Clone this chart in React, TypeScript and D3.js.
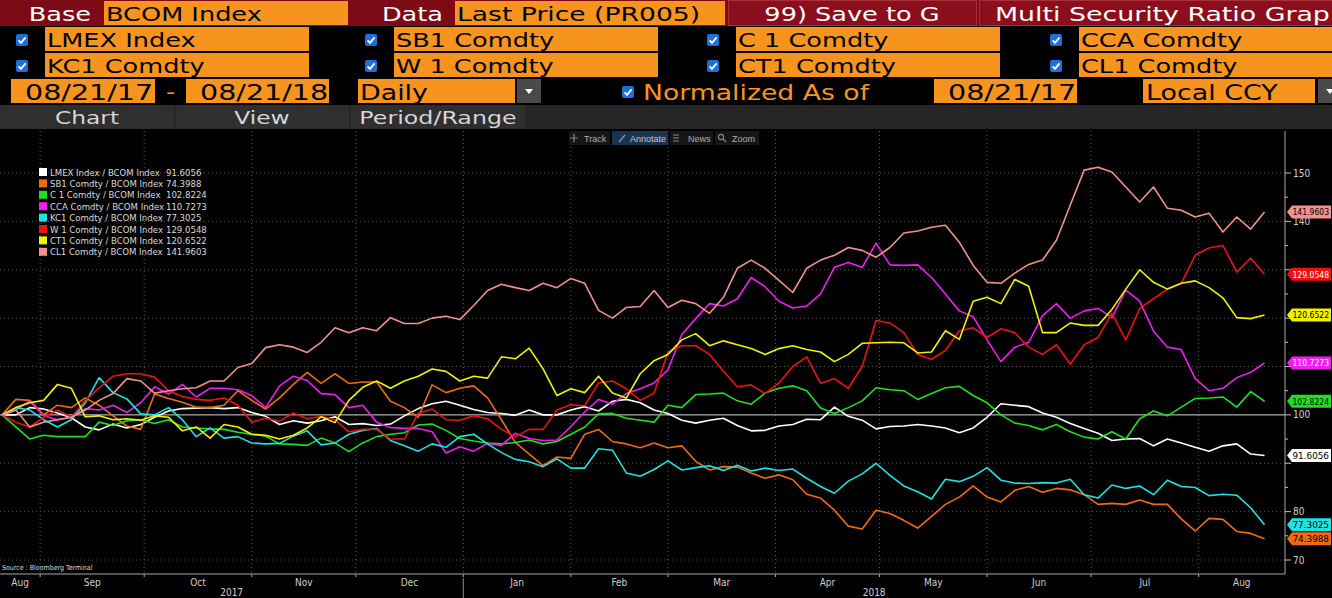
import React from 'react';
import * as d3 from 'd3';

// ---------------- DATA ----------------
const baseSecurity = 'BCOM Index';
const securities = ['LMEX Index', 'SB1 Comdty', 'C 1 Comdty', 'CCA Comdty', 'KC1 Comdty', 'W 1 Comdty', 'CT1 Comdty', 'CL1 Comdty'];
const seriesColors = ['#ffffff', '#f26a0f', '#1fe01f', '#f01cf0', '#1ee3e3', '#ee1111', '#f2f200', '#f4918c'];
const tagTextColors = ['#000', '#000', '#000', '#fff', '#000', '#fff', '#000', '#000'];

const startDate = new Date(2017, 7, 21);
const endDate = new Date(2018, 7, 21);
// one observation every 4 calendar days, 08/21/17 .. 08/20/18
const sampleDates = d3.timeDay.range(startDate, new Date(2018, 7, 22), 4);

const lmex = [
  100, 100, 101.5, 101.2, 100.4, 99.4, 97.5, 96.9, 98.1, 97.3,
  98, 99.5, 100.8, 101.3, 101.4, 101.5, 101.3, 101.5, 100.5, 99.7,
  98, 98.8, 98.3, 98.8, 99.6, 98, 98.2, 97.8, 98.1, 99.8,
  101.3, 102.3, 102.8, 102, 101.1, 100.5, 100.3, 99.9, 101, 100,
  100, 101, 101.7, 100.8, 102.8, 103.2, 102.5, 101, 100.3, 98.9,
  98.3, 98.9, 99.3, 97.8, 96.7, 96.8, 97.7, 98, 99.1, 99,
  101.6, 99.7, 98.9, 97.1, 97.6, 97.7, 98, 97.7, 97.3, 96.3,
  97.3, 99.5, 102.3, 102, 101.7, 100.4, 99.5, 98.2, 97.2, 96.2,
  94.7, 95, 95.1, 93.6, 95, 94.2, 93.3, 92.5, 93.6, 94,
  91.9, 91.6056,
];
const sb1 = [
  100, 103.2, 103, 100, 102, 101.5, 103.5, 102, 99.8, 97.7,
  97, 104.3, 103.4, 102.6, 101.6, 101.5, 102, 105, 103, 101.2,
  103.5, 106.3, 108.8, 106.5, 108.5, 106.5, 106.8, 106.8, 102.8, 101.5,
  99.5, 106.2, 104.6, 105.5, 106, 103.5, 99, 94.3, 91.9, 89.5,
  91.3, 91, 96, 97, 94.5, 94, 93.2, 94.2, 93.2, 93.6,
  90.4, 88.6, 89.3, 89.2, 88, 86.9, 87.6, 86.6, 83.6, 82.8,
  80.3, 77, 76.4, 80.3, 79.6, 78.2, 76.6, 79, 81.5, 83,
  85.3, 83, 82, 84.4, 85.2, 84, 84.8, 84.5, 83.5, 81.5,
  81.7, 81.5, 82.4, 81.5, 81.5, 78.5, 76, 78.6, 78.4, 75.9,
  75.5, 74.3988,
];
const c1 = [
  100, 97.5, 95, 95.8, 95.5, 95.5, 95.5, 98.5, 97.8, 98.8,
  99, 98.2, 99, 97.5, 97.3, 97.1, 97, 96.4, 96, 95.6,
  94, 93.9, 93.7, 95.2, 94.2, 92.4, 94.2, 95.5, 96, 96.3,
  97.9, 98.1, 96.8, 95.1, 94.6, 94.2, 94, 94.3, 94.8, 94,
  94.5, 96, 97.5, 100.2, 100.3, 99.3, 98.9, 98.5, 102, 101.5,
  104.2, 104.3, 104.5, 102.9, 102.2, 104.5, 105.5, 106, 105, 101.4,
  100.3, 101.5, 102.9, 105.6, 105.2, 105, 103.2, 104.4, 105.6, 105.9,
  104, 102.5, 100, 98.3, 97.8, 96.9, 98, 96.5, 95.4, 95,
  96.5, 95, 99.2, 100.8, 99.8, 101.6, 103.4, 103.5, 103.7, 101.6,
  104.8, 102.8224,
];
const cca = [
  100, 101, 102.9, 99.8, 99, 99.5, 101.3, 101, 102, 100.5,
  102.5, 105.8, 104.3, 106.3, 103.7, 105.5, 105.5, 105.2, 104, 101.5,
  106, 108, 107.1, 104.4, 104.2, 101.5, 102, 98.5, 97.4, 97.2,
  97.2, 96.5, 92.1, 93.4, 92.5, 94.1, 93.7, 96.2, 95.1, 94.7,
  94.8, 97.6, 100.6, 103.2, 102.2, 104.4, 105.4, 106.6, 109.3, 116.6,
  119.9, 123, 122.5, 124, 128.4, 126.5, 123.5, 122.1, 122.5, 125,
  130.5, 131.5, 130.5, 135.5, 131, 130.9, 131, 128.4, 125, 121.5,
  120.3, 115.5, 111, 114, 115, 120.5, 123, 120, 121.5, 122,
  120.1, 125.8, 123.5, 117.3, 114, 113.5, 107.5, 105, 105.5, 107.7,
  108.8, 110.7273,
];
const kc1 = [
  100, 101.5, 101, 99, 97.5, 99, 102.5, 107.7, 104.6, 103.3,
  100.2, 100, 101.5, 99, 95.5, 97.3, 95.2, 95.5, 94.2, 94,
  94.1, 95.6, 96.7, 93.8, 94.2, 96, 96.8, 97.2, 94.7, 93.6,
  92.5, 94, 93.3, 95.5, 96, 94, 92.2, 90.8, 90.3, 89.3,
  90.9, 89, 89, 93, 92.7, 88, 87.3, 88.7, 90.5, 88.6,
  89.1, 89.5, 88.5, 89.6, 88.4, 89, 88.5, 88.8, 86.9, 85.2,
  83.8, 86.3, 87.8, 90, 87.5, 85.3, 84.1, 82.6, 86.7, 86.2,
  87.3, 89.1, 86.5, 85.9, 85.8, 86, 85.9, 86.7, 83.5, 82.8,
  85.5, 84.8, 85.3, 83.5, 86.5, 85.2, 85, 83.3, 83.6, 83.4,
  80.8, 77.3025,
];
const w1 = [
  100, 98.5, 97.5, 99.5, 101, 99.5, 103, 105.6, 108, 108.5,
  108.5, 107.8, 105, 103.8, 103.2, 103, 103.5, 102, 98.5, 99.3,
  98.7, 100.4, 99.2, 99.7, 99, 96.5, 97, 97, 95, 95,
  100.3, 101.2, 99, 98.9, 99.8, 99.2, 97, 95.5, 97, 97,
  101, 102.1, 101.9, 106.6, 107, 105.4, 103, 104.5, 113, 114.3,
  114.3, 112.5, 109, 105.8, 106.2, 104.4, 106.6, 110, 112, 106.5,
  107.5, 105.5, 110, 119.5, 119, 117, 112.5, 111.5, 113.3, 117.4,
  118, 116, 117.8, 117, 114, 112.5, 114.5, 110.5, 114.5, 116,
  121, 115.5, 122, 124, 126, 127.2, 133, 134.5, 135, 129.5,
  132.4, 129.0548,
];
const ct1 = [
  100, 101.5, 102.5, 103, 106.3, 105.5, 99.6, 99.8, 99, 99.2,
  98.9, 99.8, 99.5, 96.7, 97.5, 95.2, 98, 97.5, 96, 95.8,
  95, 95.8, 97.3, 99.6, 98.4, 103, 105.7, 107, 105.5, 107,
  108, 109.5, 109, 107, 108, 107.6, 112, 111.6, 113.8, 109.5,
  104, 105.4, 104.6, 108, 104.5, 103.5, 108.5, 111.2, 112.5, 115.5,
  116.8, 114.3, 115.3, 114.5, 113.7, 112.5, 113.7, 114.3, 113.5, 113,
  111, 112.5, 114.8, 114.9, 115, 114.9, 112.8, 113, 117.4, 115.6,
  123.5, 124.3, 123, 128, 126.6, 117, 117, 119, 118.5, 118.5,
  121.8, 126, 130, 127.4, 126, 127.2, 127.7, 126.3, 124.2, 120.1,
  119.9, 120.6522,
];
const cl1 = [
  100, 101, 97.5, 98.5, 99, 99.5, 101, 103, 104.4, 107.5,
  107, 104.5, 105, 105.4, 105.6, 107, 107, 109.8, 110.6, 113.9,
  114.5, 114, 112.9, 115, 118, 117, 118, 117.4, 120.1, 118.9,
  118.9, 120, 120.4, 119.7, 122.6, 125.7, 127, 126.3, 125.7, 127.2,
  126.3, 128.2, 127.2, 121.6, 120, 122.2, 122.4, 125.7, 122.2, 123.7,
  123, 121, 124.3, 130.3, 132, 130.3, 127.8, 125.3, 130.3, 132,
  133, 134.6, 134, 132.6, 134.6, 137.6, 138, 138.8, 139.2, 135.7,
  130.9, 127.4, 127.2, 129.3, 131.1, 132, 136.1, 143.4, 150.6, 151.2,
  150.2, 147.1, 144, 147.1, 142.7, 142.3, 140.9, 141.7, 137.8, 140.9,
  138.4, 141.9603,
];
const seriesValues = [lmex, sb1, c1, cca, kc1, w1, ct1, cl1];

const yTicks = [70, 80, 90, 100, 110, 120, 130, 140, 150];
const yMinorTicks = [75, 85, 95, 105, 115, 125, 135, 145];

// ---------------- STYLE ----------------
const ORANGE = '#f7941e';
const HDR_RED = '#7c0b16';
const F = "'DejaVu Sans', Verdana, sans-serif";
const NARROW = "'Liberation Sans Narrow','DejaVu Sans Condensed','Arial Narrow',sans-serif";

function HT({ x, y, s = 20, fill = '#000', anchor = 'start', sx = 1.28, children }: any) {
  return (
    <text transform={`translate(${x},${y}) scale(${sx},1)`} fontSize={s} fill={fill}
      textAnchor={anchor} fontFamily={F}>{children}</text>
  );
}

function CheckBox({ x, y }: any) {
  return (
    <g transform={`translate(${x},${y})`}>
      <rect width={12} height={12} rx={2} fill="#1f6fd6" />
      <path d="M2.6 6.3 L5 8.8 L9.6 3.3" stroke="#fff" strokeWidth={1.8} fill="none" />
    </g>
  );
}

function DropDown({ x, y, w }: any) {
  return (
    <g>
      <rect x={x} y={y} width={w} height={24} fill="#4a4a4a" />
      <path d={`M${x + w / 2 - 4},${y + 10} L${x + w / 2 + 4},${y + 10} L${x + w / 2},${y + 15} Z`} fill="#fff" />
    </g>
  );
}

export default function App() {
  const W = 1332, H = 598;
  const plotRight = 1285;
  const axisY = 574;
  const chartTop = 131;

  const x = d3.scaleTime().domain([startDate, endDate]).range([2, 1268]);
  const y = d3.scaleLinear().domain([70, 150]).range([560, 173]);
  const line = d3.line<[Date, number]>().x(d => x(d[0])).y(d => y(d[1])).curve(d3.curveLinear);

  const axisEndDate = x.invert(plotRight);
  const monthStarts = d3.timeMonth.range(d3.timeMonth.ceil(startDate), axisEndDate);
  const monthsAll = d3.timeMonth.range(d3.timeMonth.floor(startDate), axisEndDate);
  const fmtMonth = d3.timeFormat('%b');
  const yearStart2018 = new Date(2018, 0, 1);
  const years = [
    { label: '2017', a: 0, b: x(yearStart2018) },
    { label: '2018', a: x(yearStart2018), b: plotRight },
  ];
  const fmtVal = d3.format('.4f');
  const tagYs = seriesValues.map(v => y(v[v.length - 1]));

  const colCheckX = [16, 365, 707, 1050];
  const colFieldX = [45, 394, 736, 1079];
  const colFieldW = [264, 264, 264, 253];

  return (
    <svg width={W} height={H} style={{ position: 'absolute', left: 0, top: 0, display: 'block' }}>
      <rect x={0} y={0} width={W} height={H} fill="#000" />

      {/* Row 1 */}
      <rect x={0} y={0} width={W} height={26} fill={HDR_RED} />
      <HT x={91} y={21} fill="#fff" anchor="end">Base</HT>
      <rect x={104} y={1} width={244} height={24} fill={ORANGE} />
      <HT x={106} y={21}>{baseSecurity}</HT>
      <HT x={443} y={21} fill="#fff" anchor="end">Data</HT>
      <rect x={455} y={1} width={270} height={24} fill={ORANGE} />
      <HT x={457} y={21} sx={1.33}>Last Price (PR005)</HT>
      <rect x={728.5} y={0.5} width={248} height={25} fill="#8c0d1b" stroke="#a8303a" />
      <HT x={852} y={21} fill="#fff" anchor="middle">99) Save to G</HT>
      <rect x={979.5} y={0.5} width={360} height={25} fill="#8c0d1b" stroke="#a8303a" />
      <HT x={995} y={21} fill="#fff" sx={1.34}>Multi Security Ratio Grap</HT>

      {/* Rows 2-3: securities */}
      {securities.map((s, i) => {
        const col = i % 4, row = Math.floor(i / 4);
        const top = 27 + row * 26;
        return (
          <g key={s}>
            <CheckBox x={colCheckX[col]} y={top + 7} />
            <rect x={colFieldX[col]} y={top} width={colFieldW[col]} height={24} fill={ORANGE} />
            <HT x={colFieldX[col] + 2} y={top + 20}>{s}</HT>
          </g>
        );
      })}

      {/* Row 4 */}
      <rect x={11} y={79} width={144} height={24} fill={ORANGE} />
      <HT x={25} y={100} s={21} sx={1.36}>08/21/17</HT>
      <HT x={166} y={99} fill={ORANGE}>-</HT>
      <rect x={186} y={79} width={143} height={24} fill={ORANGE} />
      <HT x={200} y={100} s={21} sx={1.36}>08/21/18</HT>
      <rect x={358} y={79} width={157} height={24} fill={ORANGE} />
      <HT x={360} y={100} s={21}>Daily</HT>
      <DropDown x={517} y={79} w={24} />
      <CheckBox x={622} y={86} />
      <HT x={643} y={100} s={21} fill={ORANGE} sx={1.27}>Normalized As of</HT>
      <rect x={934} y={79} width={143} height={24} fill={ORANGE} />
      <HT x={948} y={100} s={21} sx={1.36}>08/21/17</HT>
      <rect x={1143} y={79} width={172} height={24} fill={ORANGE} />
      <HT x={1146} y={100} s={21}>Local CCY</HT>
      <DropDown x={1318} y={79} w={24} />

      {/* Row 5: tabs */}
      <rect x={0} y={105} width={W} height={24} fill="#262626" />
      <rect x={0} y={105} width={174} height={24} fill="#2f2f2f" />
      <rect x={176} y={105} width={173} height={24} fill="#2f2f2f" />
      <rect x={351} y={105} width={174} height={24} fill="#2f2f2f" />
      <HT x={87} y={124} s={18} fill="#d6d6d6" anchor="middle" sx={1.3}>Chart</HT>
      <HT x={262} y={124} s={18} fill="#d6d6d6" anchor="middle" sx={1.3}>View</HT>
      <HT x={438} y={124} s={18} fill="#d6d6d6" anchor="middle" sx={1.32}>Period/Range</HT>

      {/* Chart grid */}
      <g>
        {monthStarts.map(m => (
          <line key={+m} x1={x(m)} x2={x(m)} y1={chartTop} y2={axisY} stroke="#5a5a5a" strokeDasharray="1,3" />
        ))}
        {yTicks.filter(t => t !== 100).map(t => (
          <line key={t} x1={0} x2={plotRight + 3} y1={y(t)} y2={y(t)} stroke="#5a5a5a" strokeDasharray="1,3" />
        ))}
        <line x1={0} x2={plotRight} y1={y(100)} y2={y(100)} stroke="#d8d8d8" strokeWidth={1} />
      </g>

      {/* Toolbar */}
      <g fontFamily="'Liberation Sans', Arial, sans-serif" fontSize={9} fill="#b0b0b0">
        <rect x={569} y={131} width={41} height={14} fill="#161616" />
        <path d="M574,134 L574,142 M570,138 L578,138" stroke="#888" strokeWidth={1.2} />
        <text x={584} y={141.5}>Track</text>
        <rect x={612} y={131} width={56} height={14} fill="#183450" />
        <path d="M619,142 L625,135" stroke="#999" strokeWidth={1.2} />
        <text x={630} y={141.5} fill="#c8c8c8">Annotate</text>
        <rect x={670} y={131} width={43} height={14} fill="#161616" />
        <path d="M673,135 h6 M673,138 h6 M673,141 h6" stroke="#888" strokeWidth={1.2} />
        <text x={688} y={141.5}>News</text>
        <rect x={715} y={131} width={44} height={14} fill="#161616" />
        <circle cx={721} cy={137} r={2.6} stroke="#888" fill="none" strokeWidth={1.1} />
        <path d="M723,139 L726,142" stroke="#888" strokeWidth={1.2} />
        <text x={732} y={141.5}>Zoom</text>
      </g>

      {/* Series lines */}
      <g fill="none" strokeWidth={1.6} strokeLinejoin="round">
        {seriesValues.map((vals, i) => {
          const pts = vals.map((v, j) => [sampleDates[j], v] as [Date, number]).filter(p => p[0]);
          return <path key={i} d={line(pts) || ''} stroke={seriesColors[i]} />;
        })}
      </g>

      {/* Axes */}
      <line x1={0} x2={plotRight} y1={axisY} y2={axisY} stroke="#a8a8a8" />
      <line x1={plotRight} x2={plotRight} y1={chartTop} y2={axisY} stroke="#a8a8a8" />
      {monthStarts.map(m => (
        <line key={'t' + +m} x1={x(m)} x2={x(m)} y1={axisY} y2={axisY + 3} stroke="#a8a8a8" />
      ))}
      <line x1={x(yearStart2018)} x2={x(yearStart2018)} y1={axisY + 4} y2={H} stroke="#8a8a8a" />
      <g fontFamily={NARROW} fontSize={10} fill="#cfcfcf" textAnchor="middle">
        {monthsAll.map(m => {
          const a = Math.max(x(m), 0);
          const b = Math.min(x(d3.timeMonth.offset(m, 1)), plotRight);
          return <text key={'m' + +m} x={(a + b) / 2} y={586}>{fmtMonth(m)}</text>;
        })}
        {years.map(yr => (
          <text key={yr.label} x={(yr.a + yr.b) / 2} y={596}>{yr.label}</text>
        ))}
      </g>
      <text x={2} y={570} fontFamily={NARROW} fontSize={7} fill="#dcdcdc">Source : Bloomberg Terminal</text>

      {/* Right axis */}
      <g fontFamily={NARROW} fontSize={10} fill="#cfcfcf">
        {yTicks.map(t => (
          <g key={'y' + t}>
            <line x1={plotRight} x2={plotRight + 6} y1={y(t)} y2={y(t)} stroke="#bdbdbd" />
            {tagYs.every(ty => Math.abs(ty - y(t)) > 9) && (
              <text x={plotRight + 8} y={y(t) + 3.5}>{t}</text>
            )}
          </g>
        ))}
        {yMinorTicks.map(t => (
          <line key={'ym' + t} x1={plotRight} x2={plotRight + 3} y1={y(t)} y2={y(t)} stroke="#bdbdbd" />
        ))}
      </g>

      {/* Last value tags */}
      <g fontFamily={NARROW} fontSize={9}>
        {seriesValues.map((vals, i) => {
          const v = vals[vals.length - 1];
          const cy = y(v);
          const x0 = plotRight + 2, x1 = plotRight + 7, x2 = 1331;
          return (
            <g key={'tag' + i}>
              <path d={`M${x0},${cy} L${x1},${cy - 6.5} L${x2},${cy - 6.5} L${x2},${cy + 6.5} L${x1},${cy + 6.5} Z`} fill={seriesColors[i]} />
              <text x={x1 + 0.5} y={cy + 3.4} fill={tagTextColors[i]} textLength={36.5} lengthAdjust="spacingAndGlyphs">{fmtVal(v)}</text>
            </g>
          );
        })}
      </g>

      {/* Legend */}
      <g fontFamily={NARROW} fontSize={9.5} fill="#dadada">
        {securities.map((s, i) => {
          const cy = 172 + i * 11.4;
          const vals = seriesValues[i];
          return (
            <g key={'lg' + i}>
              <rect x={39} y={cy - 4} width={8} height={8} fill={seriesColors[i]} />
              <text x={50} y={cy + 3.5}>{`${s} / ${baseSecurity}`}</text>
              <text x={166} y={cy + 3.5}>{fmtVal(vals[vals.length - 1])}</text>
            </g>
          );
        })}
      </g>
    </svg>
  );
}
